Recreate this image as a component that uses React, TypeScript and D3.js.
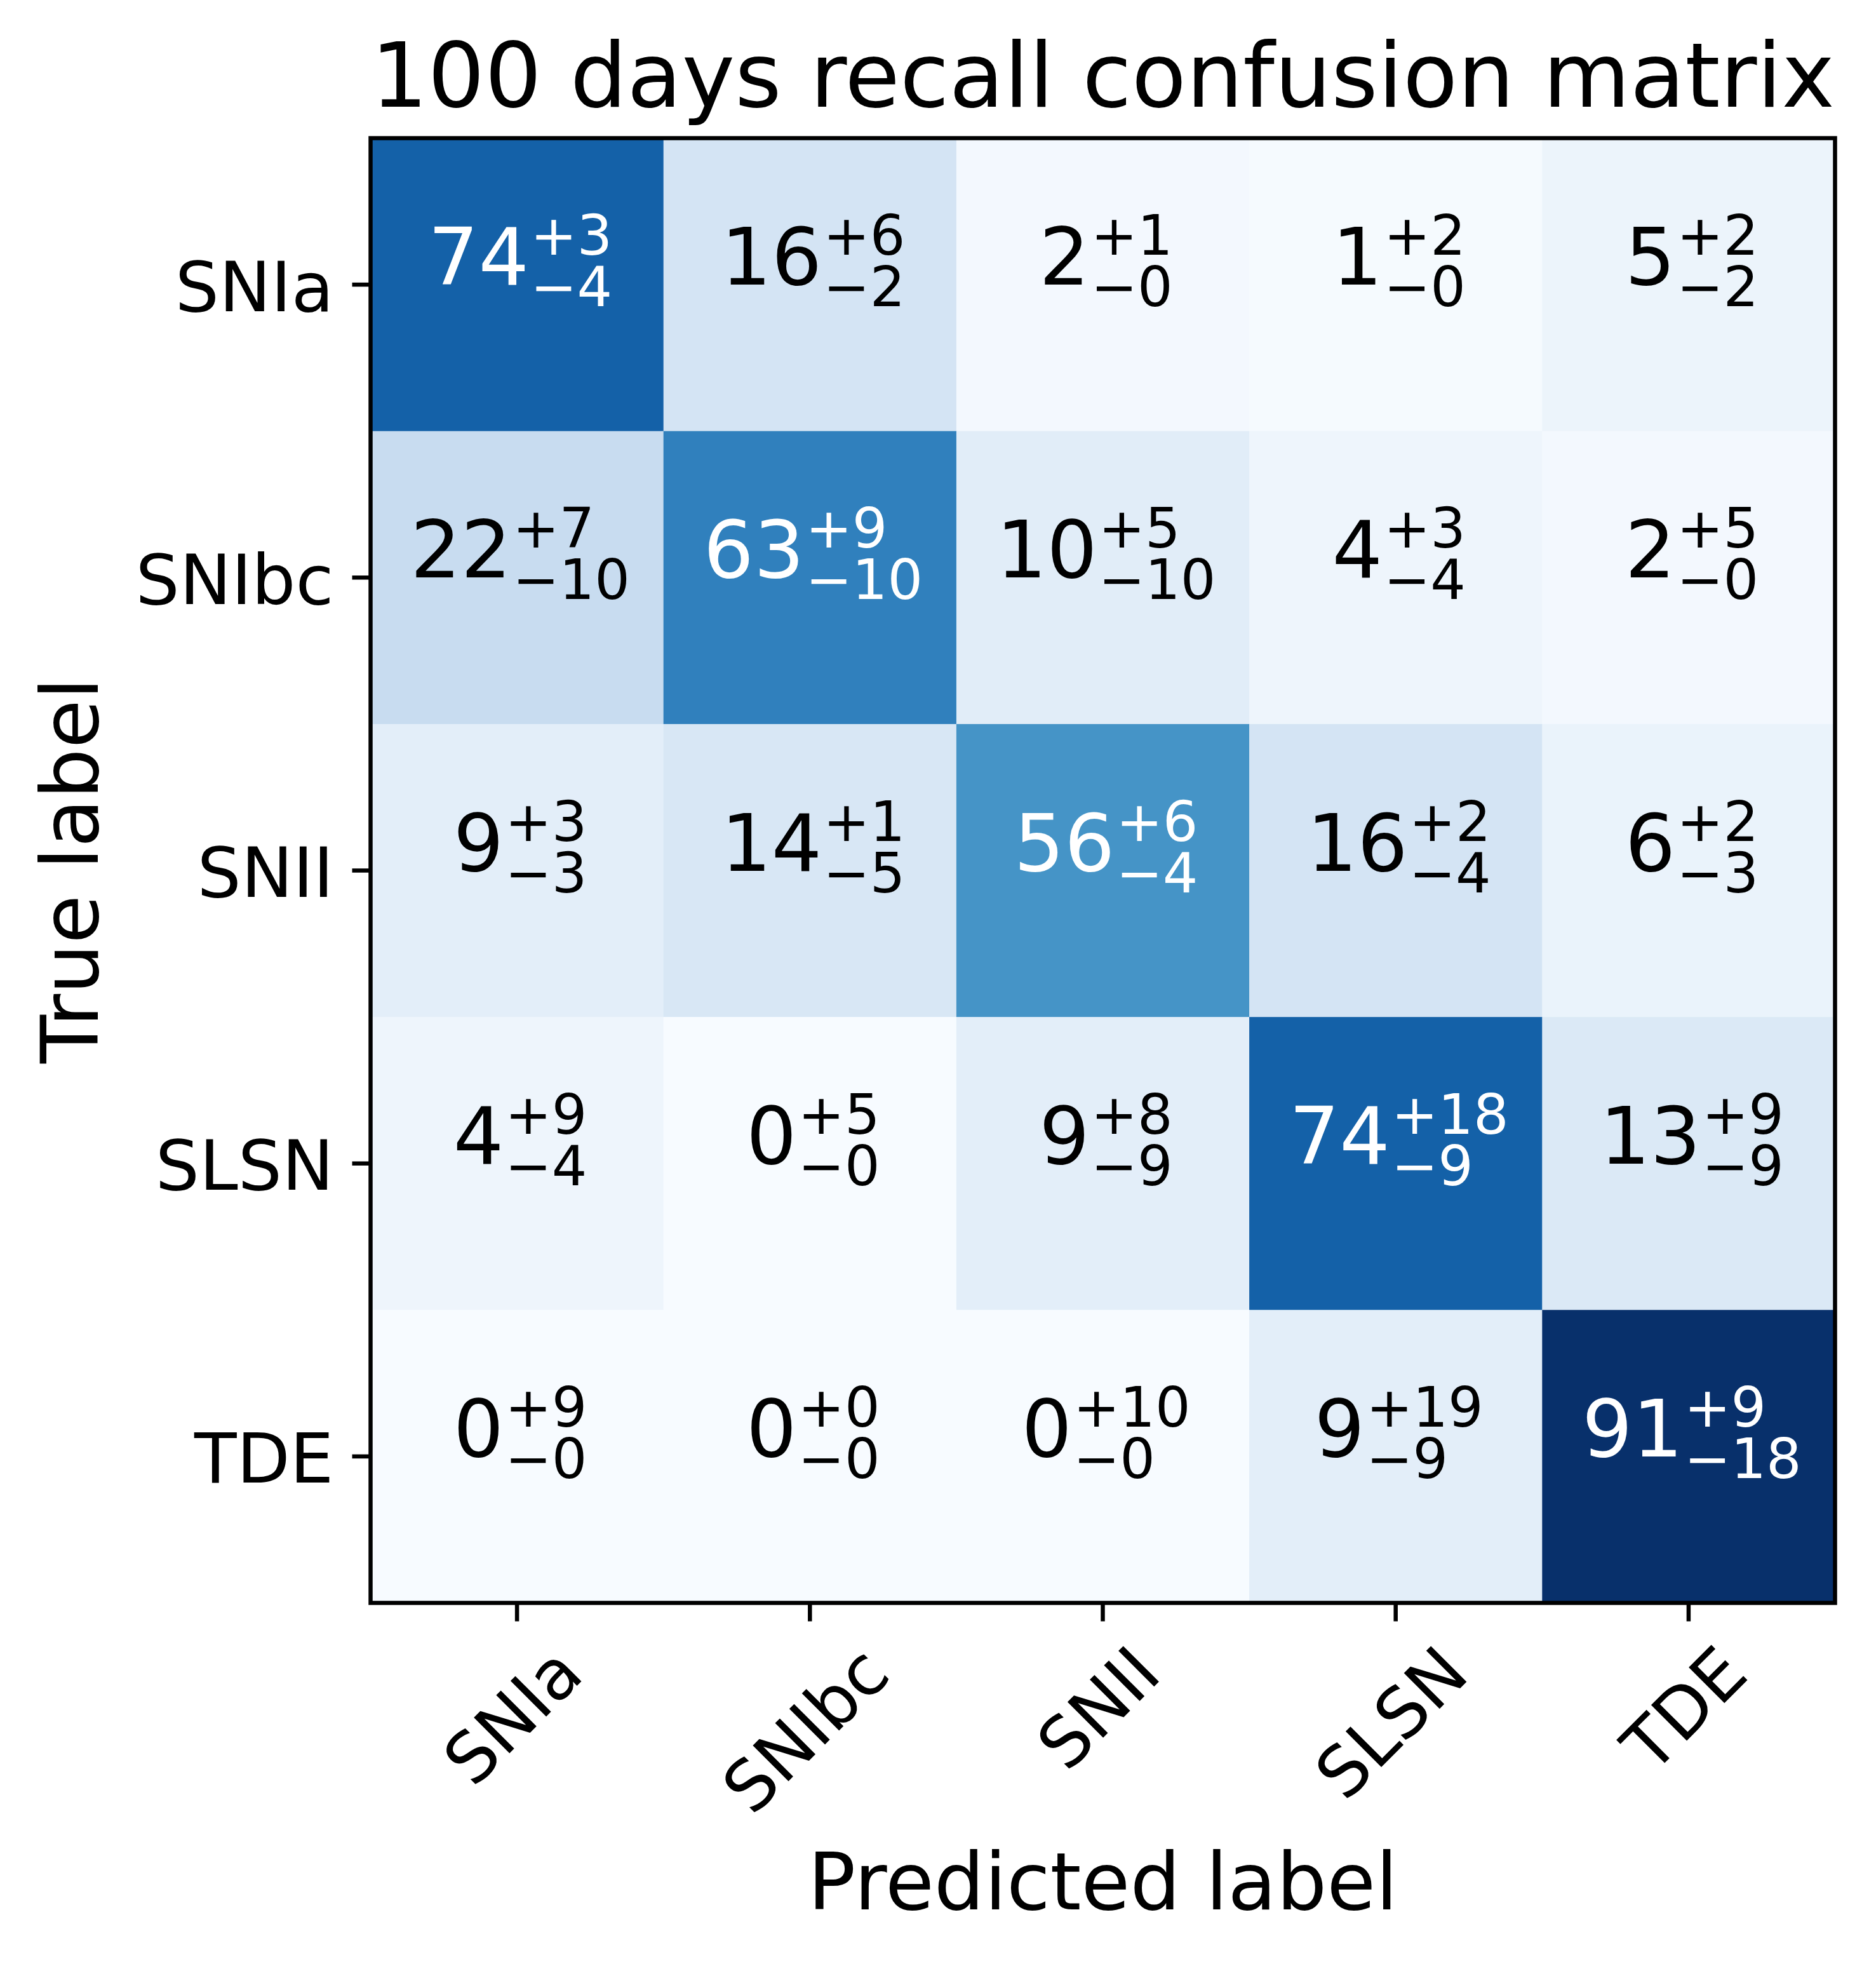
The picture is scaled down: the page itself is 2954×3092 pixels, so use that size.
import { useEffect, useRef } from 'react'
import * as d3 from 'd3'

const classes = ['SNIa', 'SNIbc', 'SNII', 'SLSN', 'TDE']

// recall in percent, rows = true label, columns = predicted label
const recall = [
  [74, 16, 2, 1, 5],
  [22, 63, 10, 4, 2],
  [9, 14, 56, 16, 6],
  [4, 0, 9, 74, 13],
  [0, 0, 0, 9, 91],
]
const errUp = [
  [3, 6, 1, 2, 2],
  [7, 9, 5, 3, 5],
  [3, 1, 6, 2, 2],
  [9, 5, 8, 18, 9],
  [9, 0, 10, 19, 9],
]
const errDown = [
  [4, 2, 0, 0, 2],
  [10, 10, 10, 4, 0],
  [3, 5, 4, 4, 3],
  [4, 0, 9, 9, 9],
  [0, 0, 0, 9, 18],
]

const title = '100 days recall confusion matrix'
const xTitle = 'Predicted label'
const yTitle = 'True label'

// matplotlib "Blues"
const bluesStops = ['#f7fbff', '#deebf7', '#c6dbef', '#9ecae1', '#6baed6', '#4292c6', '#2171b5', '#08519c', '#08306b']

const W = 2954
const H = 3092
const FONT = '"DejaVu Sans", Verdana, sans-serif'

export default function App() {
  const ref = useRef<SVGSVGElement | null>(null)

  useEffect(() => {
    document.body.style.margin = '0'
    if (!ref.current) {return}
    const svg = d3.select(ref.current)
    svg.selectAll('*').remove()

    const ctx = document.createElement('canvas').getContext('2d')!
    const textWidth = (s: string, size: number) => {
      ctx.font = `${size}px ${FONT}`
      return ctx.measureText(s).width
    }

    const left = 583.5
    const top = 217.5
    const size = 2306
    const tickLen = 29
    const pad = 29
    const tickFs = 109
    const cellFs = 125
    const scriptFs = cellFs * 0.7

    const x = d3.scaleBand().domain(classes).range([left, left + size])
    const y = d3.scaleBand().domain(classes).range([top, top + size])
    const bw = x.bandwidth()

    const vmax = d3.max(recall.flat()) ?? 1
    const color = d3
      .scaleLinear<string>()
      .domain(bluesStops.map((_, i) => (i / (bluesStops.length - 1)) * vmax))
      .range(bluesStops)
      .interpolate(d3.interpolateRgb)
      .clamp(true)

    svg.append('rect').attr('width', W).attr('height', H).attr('fill', '#ffffff')

    const cells = recall.flatMap((row, i) =>
      row.map((v, j) => ({ v, up: errUp[i][j], down: errDown[i][j], t: classes[i], p: classes[j] })),
    )

    svg
      .append('g')
      .selectAll('rect')
      .data(cells)
      .join('rect')
      .attr('x', (d) => x(d.p) ?? 0)
      .attr('y', (d) => y(d.t) ?? 0)
      .attr('width', bw + 0.5)
      .attr('height', bw + 0.5)
      .attr('fill', (d) => color(d.v))

    // cell annotations: value^{+up}_{-down}, baseline at the cell centre
    const ann = svg.append('g').attr('font-family', FONT)
    cells.forEach((d) => {
      const cx = (x(d.p) ?? 0) + bw / 2
      const cy = (y(d.t) ?? 0) + bw / 2
      const main = String(d.v)
      const sup = `+${d.up}`
      const sub = `\u2212${d.down}`
      const wMain = textWidth(main, cellFs)
      const wScript = Math.max(textWidth(sup, scriptFs), textWidth(sub, scriptFs))
      const x0 = cx - (wMain + wScript) / 2 + 4
      const fill = d.v > vmax / 2 ? '#ffffff' : '#000000'
      const t = ann.append('text').attr('fill', fill)
      t.append('tspan').attr('x', x0).attr('y', cy).attr('font-size', cellFs).text(main)
      t.append('tspan').attr('x', x0 + wMain + 2).attr('y', cy - 47).attr('font-size', scriptFs).text(sup)
      t.append('tspan').attr('x', x0 + wMain + 2).attr('y', cy + 34).attr('font-size', scriptFs).text(sub)
    })

    // frame
    svg
      .append('rect')
      .attr('x', left)
      .attr('y', top)
      .attr('width', size)
      .attr('height', size)
      .attr('fill', 'none')
      .attr('stroke', '#000')
      .attr('stroke-width', 6.5)

    // x axis
    const gx = svg
      .append('g')
      .attr('transform', `translate(0,${top + size})`)
      .call(d3.axisBottom(x).tickSize(tickLen).tickSizeOuter(0))
    gx.select('.domain').remove()
    gx.selectAll('line').attr('stroke', '#000').attr('stroke-width', 6.5)
    gx.selectAll<SVGTextElement, string>('text')
      .attr('font-family', FONT)
      .attr('font-size', tickFs)
      .attr('fill', '#000')
      .attr('text-anchor', 'middle')
      .attr('y', null)
      .attr('dy', null)
      .attr('transform', (c) => {
        const w = textWidth(c, tickFs)
        const off = tickLen + pad + (w + tickFs) / (2 * Math.SQRT2)
        return `translate(0,${off}) rotate(-45) translate(0,${0.26 * tickFs})`
      })

    // y axis
    const gy = svg
      .append('g')
      .attr('transform', `translate(${left},0)`)
      .call(d3.axisLeft(y).tickSize(tickLen).tickSizeOuter(0))
    gy.select('.domain').remove()
    gy.selectAll('line').attr('stroke', '#000').attr('stroke-width', 6.5)
    gy.selectAll('text')
      .attr('font-family', FONT)
      .attr('font-size', tickFs)
      .attr('fill', '#000')
      .attr('text-anchor', 'end')
      .attr('x', -(tickLen + pad))
      .attr('dy', null)
      .attr('y', 0.38 * tickFs)

    // titles
    svg
      .append('text')
      .attr('x', left + size / 2)
      .attr('y', 168)
      .attr('text-anchor', 'middle')
      .attr('font-family', FONT)
      .attr('font-size', 141)
      .text(title)

    svg
      .append('text')
      .attr('x', left + size / 2)
      .attr('y', 3006)
      .attr('text-anchor', 'middle')
      .attr('font-family', FONT)
      .attr('font-size', cellFs)
      .text(xTitle)

    svg
      .append('text')
      .attr('transform', `translate(154,${top + size / 2}) rotate(-90)`)
      .attr('text-anchor', 'middle')
      .attr('font-family', FONT)
      .attr('font-size', cellFs)
      .text(yTitle)
  }, [])

  return <svg ref={ref} width={W} height={H} style={{ display: 'block' }} />
}
